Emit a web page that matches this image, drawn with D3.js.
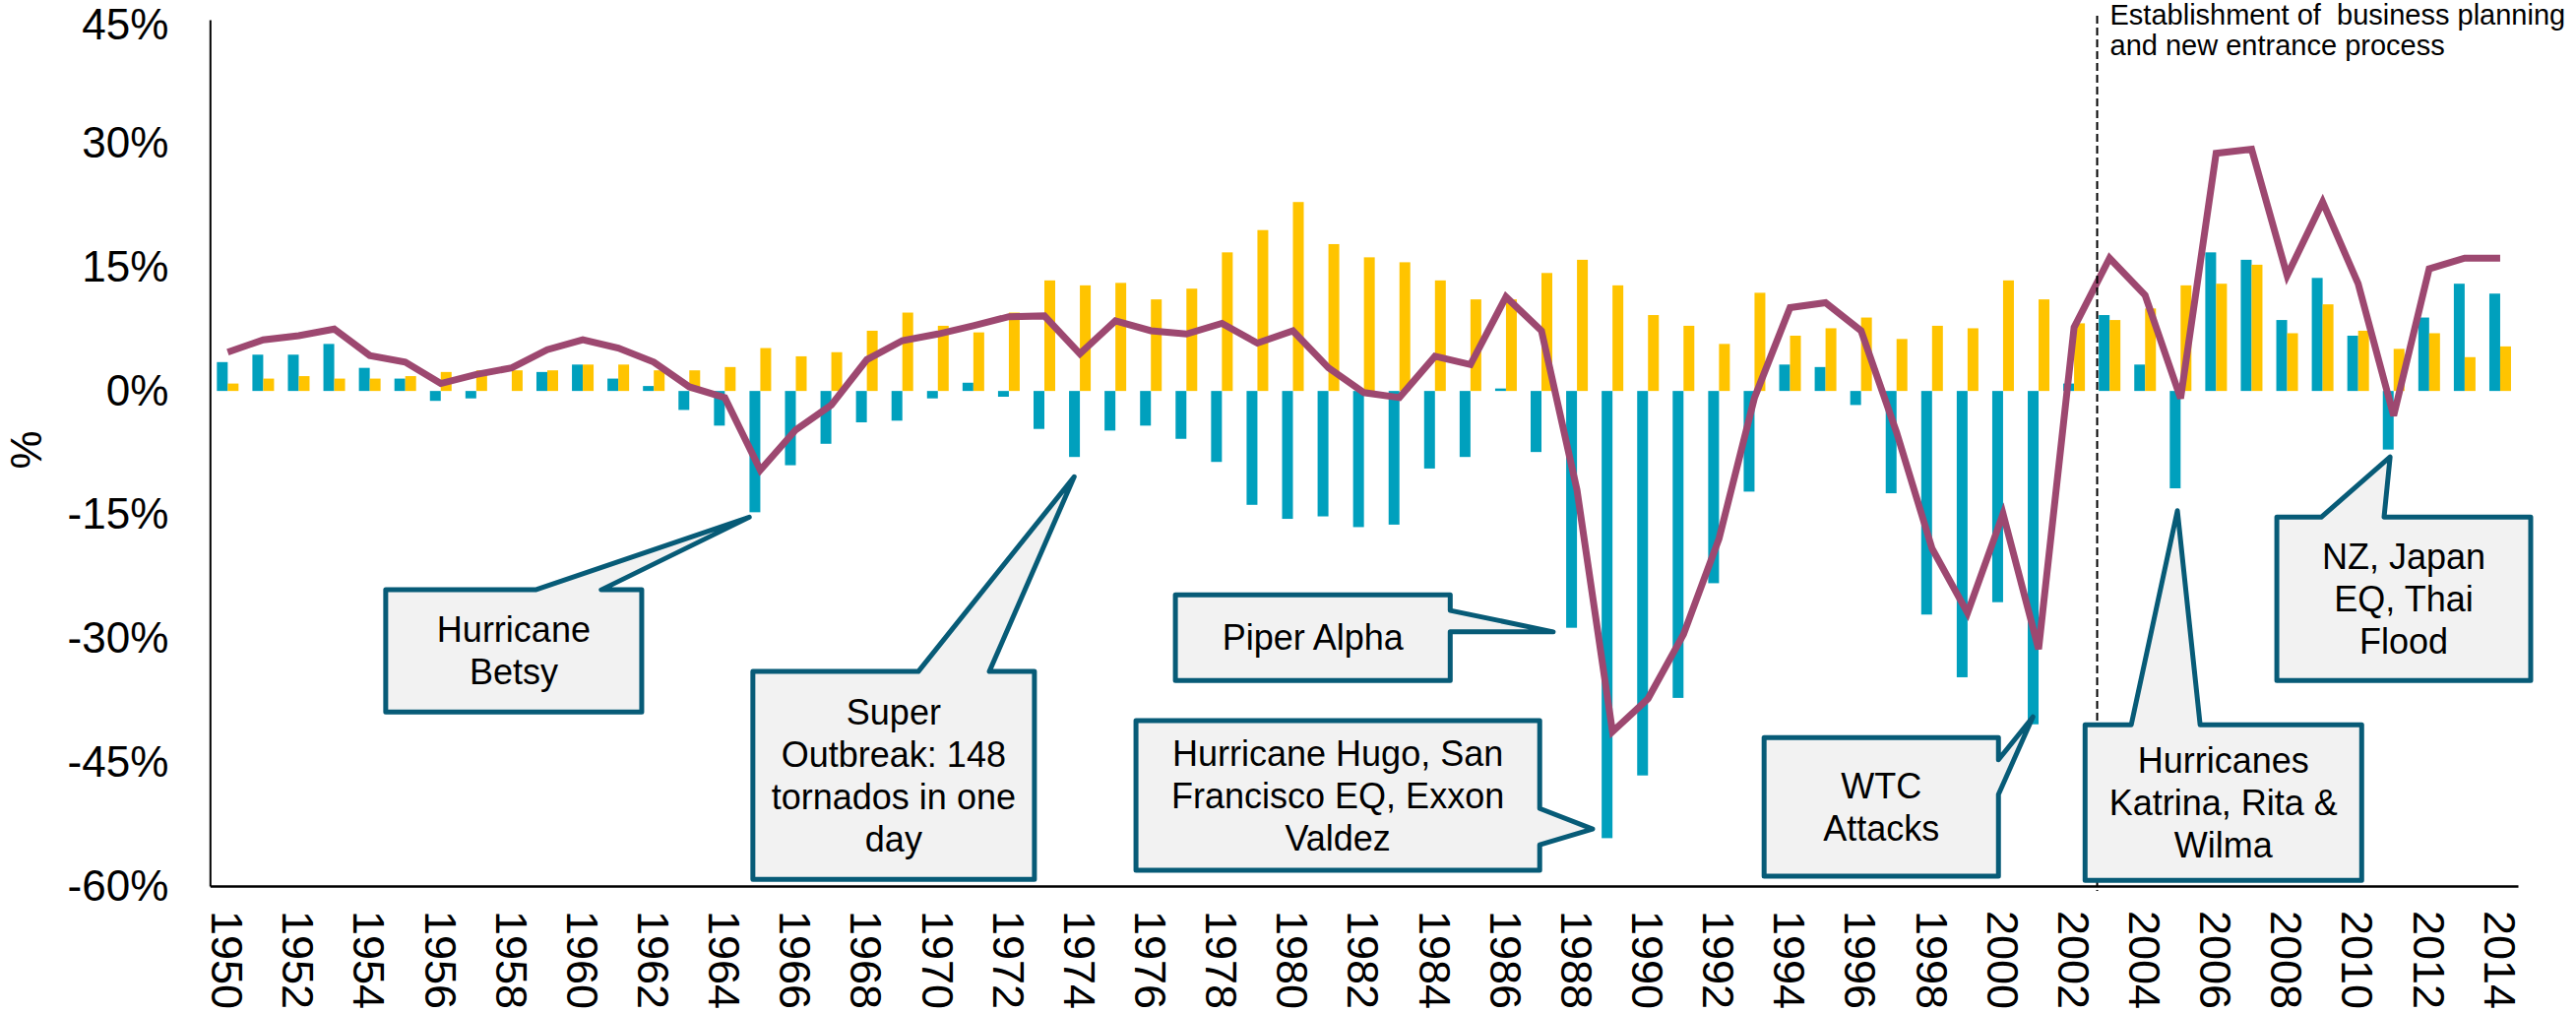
<!DOCTYPE html>
<html>
<head>
<meta charset="utf-8">
<script src="https://cdn.jsdelivr.net/npm/d3@7"></script>
<style>
  body { margin: 0; background: #fff; }
  svg { display: block; font-family: "Liberation Sans", Arial, sans-serif; }
</style>
</head>
<body>
<div id="graf"></div>
<script>
// categories
const years = [
  1950, 1951, 1952, 1953, 1954, 1955, 1956, 1957, 1958, 1959,
  1960, 1961, 1962, 1963, 1964, 1965, 1966, 1967, 1968, 1969,
  1970, 1971, 1972, 1973, 1974, 1975, 1976, 1977, 1978, 1979,
  1980, 1981, 1982, 1983, 1984, 1985, 1986, 1987, 1988, 1989,
  1990, 1991, 1992, 1993, 1994, 1995, 1996, 1997, 1998, 1999,
  2000, 2001, 2002, 2003, 2004, 2005, 2006, 2007, 2008, 2009,
  2010, 2011, 2012, 2013, 2014
]

// teal bars
const tealVals = [
  3.5, 4.4, 4.4, 5.7, 2.8, 1.5, -1.2, -0.9, 0, 2.3,
  3.2, 1.5, 0.6, -2.3, -4.2, -14.7, -9.0, -6.4, -3.8, -3.6,
  -0.9, 1.0, -0.7, -4.6, -8.0, -4.8, -4.2, -5.8, -8.6, -13.8,
  -15.5, -15.2, -16.5, -16.2, -9.4, -8.0, 0.3, -7.4, -28.7, -54.2,
  -46.6, -37.2, -23.3, -12.2, 3.2, 2.9, -1.7, -12.4, -27.1, -34.7,
  -25.6, -40.4, 0.9, 9.2, 3.2, -11.8, 16.8, 15.9, 8.6, 13.7,
  6.7, -7.1, 8.9, 13.0, 11.8
]

// gold bars
const goldVals = [
  0.9, 1.5, 1.8, 1.5, 1.5, 1.8, 2.3, 2.5, 2.5, 2.5,
  3.2, 3.2, 2.5, 2.5, 2.9, 5.2, 4.2, 4.7, 7.3, 9.5,
  7.9, 7.1, 9.5, 13.4, 12.8, 13.1, 11.1, 12.4, 16.8, 19.5,
  22.9, 17.8, 16.2, 15.6, 13.4, 11.1, 11.1, 14.3, 15.9, 12.8,
  9.2, 7.9, 5.7, 11.9, 6.7, 7.6, 8.9, 6.3, 7.9, 7.6,
  13.4, 11.1, 8.2, 8.6, 10.0, 12.8, 13.0, 15.3, 7.0, 10.5,
  7.3, 5.1, 7.0, 4.1, 5.4
]

// line
const lineVals = [
  4.7, 6.2, 6.7, 7.5, 4.3, 3.5, 0.9, 2.0, 2.8, 5.0,
  6.2, 5.2, 3.5, 0.5, -0.8, -9.6, -4.7, -1.7, 3.8, 6.1,
  6.9, 7.9, 9.0, 9.1, 4.5, 8.5, 7.3, 6.9, 8.2, 5.8,
  7.3, 2.8, -0.2, -0.8, 4.2, 3.2, 11.4, 7.3, -12.0, -41.3,
  -37.3, -29.5, -17.9, -0.8, 10.1, 10.7, 7.3, -5.0, -19.1, -26.9,
  -14.9, -31.3, 7.7, 16.1, 11.6, -0.9, 28.8, 29.3, 14.0, 22.9,
  13.0, -3.0, 14.8, 16.1, 16.1
]

const yTicks = [-60, -45, -30, -15, 0, 15, 30, 45]
const xTicks = years.filter((d) => d % 2 == 0)

const noteLines = ["Establishment of  business planning", "and new entrance process"]
const noteYear = 2002.65

// callouts: box in (year, %) units, pointer on top or right side
const callouts = [
  { lines: ["Hurricane", "Betsy"], box: [1954.45, 1961.66, -24.1, -38.9], side: "top", base: [1958.67, 1960.52], tip: [1964.69, -15.3] },
  { lines: ["Super", "Outbreak: 148", "tornados in one", "day"], box: [1964.79, 1972.72, -34.0, -59.2], side: "top", base: [1969.45, 1971.45], tip: [1973.84, -10.4] },
  { lines: ["Piper Alpha"], box: [1976.69, 1984.43, -24.7, -35.1], side: "right", base: [-26.6, -29.2], tip: [1987.33, -29.2] },
  { lines: ["Hurricane Hugo, San", "Francisco EQ, Exxon", "Valdez"], box: [1975.58, 1986.95, -39.95, -58.1], side: "right", base: [-50.6, -55.0], tip: [1988.44, -53.1] },
  { lines: ["WTC", "Attacks"], box: [1993.27, 1999.87, -42.0, -58.8], side: "right", base: [-44.7, -48.9], tip: [2000.84, -39.5] },
  { lines: ["Hurricanes", "Katrina, Rita &", "Wilma"], box: [2002.31, 2010.1, -40.45, -59.3], side: "top", base: [2003.61, 2005.55], tip: [2004.91, -14.5] },
  { lines: ["NZ, Japan", "EQ, Thai", "Flood"], box: [2007.71, 2014.86, -15.3, -35.1], side: "top", base: [2008.96, 2010.73], tip: [2010.9, -8.0] }
]

const anchoTotal = 2617
const altoTotal = 1029

const svg = d3.select("#graf")
  .append("svg")
  .attr("width", anchoTotal)
  .attr("height", altoTotal)

const x = d3.scaleBand().domain(years).range([213.3, 2558])
const bw = x.bandwidth()
const xSub = d3.scaleBand().domain(["teal", "gold"]).range([(bw - 22) / 2, (bw + 22) / 2])
const xl = d3.scaleLinear()
  .domain([1950, 2014])
  .range([x(1950) + bw / 2, x(2014) + bw / 2])
const y = d3.scaleLinear().domain([-60, 45]).range([900, 20])

const data = years.map((d, i) => ({
  anio: d, teal: tealVals[i], gold: goldVals[i], linea: lineVals[i]
}))

// bars
const barras = svg.append("g")
barras.selectAll("rect.teal")
  .data(data)
  .enter()
  .append("rect")
  .attr("class", "teal")
  .attr("x", (d) => x(d.anio) + xSub("teal"))
  .attr("width", xSub.bandwidth())
  .attr("y", (d) => y(Math.max(0, d.teal)))
  .attr("height", (d) => Math.abs(y(d.teal) - y(0)))
  .attr("fill", "#00A0BD")

barras.selectAll("rect.gold")
  .data(data)
  .enter()
  .append("rect")
  .attr("class", "gold")
  .attr("x", (d) => x(d.anio) + xSub("gold"))
  .attr("width", xSub.bandwidth())
  .attr("y", (d) => y(Math.max(0, d.gold)))
  .attr("height", (d) => Math.abs(y(d.gold) - y(0)))
  .attr("fill", "#FFC400")

// line
const linea = d3.line()
  .x((d) => x(d.anio) + bw / 2)
  .y((d) => y(d.linea))

svg.append("path")
  .datum(data)
  .attr("d", linea)
  .attr("fill", "none")
  .attr("stroke", "#9D4870")
  .attr("stroke-width", 7)
  .attr("stroke-linejoin", "miter")

// dashed marker and note
svg.append("line")
  .attr("x1", xl(noteYear))
  .attr("x2", xl(noteYear))
  .attr("y1", y(45) - 4)
  .attr("y2", y(-60) + 5)
  .attr("stroke", "#000")
  .attr("stroke-width", 2)
  .attr("stroke-dasharray", "8,4")

svg.append("g")
  .selectAll("text")
  .data(noteLines)
  .enter()
  .append("text")
  .attr("x", xl(noteYear) + 13)
  .attr("y", (d, i) => 25 + i * 31)
  .style("white-space", "pre")
  .attr("font-size", 29)
  .attr("fill", "#000")
  .text((d) => d)

// axes
const yAxis = d3.axisLeft(y)
  .tickValues(yTicks)
  .tickSize(0)
  .tickSizeOuter(0)
  .tickPadding(42)
  .tickFormat((d) => d + "%")

const gy = svg.append("g")
  .attr("transform", `translate(${x.range()[0]}, 0)`)
  .call(yAxis)
gy.select(".domain").attr("stroke", "#000").attr("stroke-width", 2)
gy.selectAll("text")
  .attr("font-size", 44)
  .attr("font-family", "Liberation Sans, Arial, sans-serif")
  .attr("fill", "#000")
// keep the top label inside the page
gy.selectAll("text").filter((d) => d == 45).attr("y", 5)

const xAxis = d3.axisBottom(x)
  .tickValues(xTicks)
  .tickSize(0)
  .tickSizeOuter(0)

const gx = svg.append("g")
  .attr("transform", `translate(0, ${y(-60)})`)
  .call(xAxis)
gx.select(".domain").attr("stroke", "#000").attr("stroke-width", 2.5)
gx.selectAll("text")
  .attr("transform", "rotate(90)")
  .attr("x", 25)
  .attr("y", 0)
  .attr("dy", "0.36em")
  .attr("text-anchor", "start")
  .attr("font-size", 45)
  .attr("font-family", "Liberation Sans, Arial, sans-serif")
  .attr("fill", "#000")

svg.append("text")
  .attr("transform", `translate(42, ${(y(45) + y(-60)) / 2 - 3}) rotate(-90)`)
  .attr("text-anchor", "middle")
  .attr("font-size", 44)
  .attr("fill", "#000")
  .text("%")

// callouts
function calloutPath(c) {
  const x0 = xl(c.box[0]), x1 = xl(c.box[1])
  const y0 = y(c.box[2]), y1 = y(c.box[3])
  const tx = xl(c.tip[0]), ty = y(c.tip[1])
  const p = d3.path()
  if (c.side == "top") {
    p.moveTo(x0, y0)
    p.lineTo(xl(c.base[0]), y0)
    p.lineTo(tx, ty)
    p.lineTo(xl(c.base[1]), y0)
    p.lineTo(x1, y0)
    p.lineTo(x1, y1)
    p.lineTo(x0, y1)
  } else {
    p.moveTo(x0, y0)
    p.lineTo(x1, y0)
    p.lineTo(x1, y(c.base[0]))
    p.lineTo(tx, ty)
    p.lineTo(x1, y(c.base[1]))
    p.lineTo(x1, y1)
    p.lineTo(x0, y1)
  }
  p.closePath()
  return p.toString()
}

const notas = svg.append("g")
  .selectAll("g")
  .data(callouts)
  .enter()
  .append("g")

notas.append("path")
  .attr("d", calloutPath)
  .attr("fill", "#F2F2F2")
  .attr("stroke", "#075B77")
  .attr("stroke-width", 5)
  .attr("stroke-linejoin", "round")

notas.each(function (c) {
  const cx = (xl(c.box[0]) + xl(c.box[1])) / 2
  const cy = (y(c.box[2]) + y(c.box[3])) / 2
  d3.select(this)
    .selectAll("text")
    .data(c.lines)
    .enter()
    .append("text")
    .attr("x", cx)
    .attr("y", (d, i) => cy + (i - (c.lines.length - 1) / 2) * 43)
    .attr("dy", "0.35em")
    .attr("text-anchor", "middle")
    .attr("font-size", 36)
    .attr("fill", "#000")
    .text((d) => d)
})
</script>
</body>
</html>
